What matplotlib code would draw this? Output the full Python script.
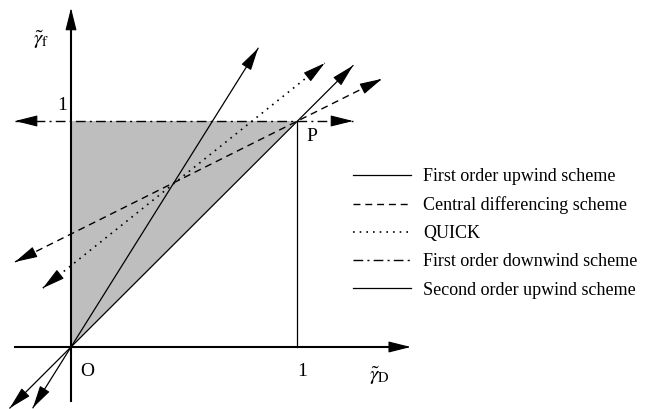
import matplotlib
matplotlib.use("Agg")
import matplotlib.pyplot as plt
import numpy as np

plt.rcParams['font.family'] = ['Liberation Serif', 'DejaVu Serif']
plt.rcParams['mathtext.fontset'] = 'stix'

# scheme lines in the normalised variable diagram: y = a + b*x
schemes = ["First order upwind scheme", "Central differencing scheme", "QUICK",
           "First order downwind scheme", "Second order upwind scheme"]
intercepts = [0.0, 0.5, 0.36, 1.0, 0.0]
slopes = [1.0, 0.5, 0.8, 0.0, 1.6]
x_start = [-0.27, -0.247, -0.124, -0.247, -0.168]
x_end = [1.245, 1.373, 1.12, 1.245, 0.826]
styles = ['-', (0, (5, 3.5)), (0, (1, 3)), (0, (7, 3, 1.5, 3)), '-']
widths = [0.9, 1.0, 1.2, 1.0, 0.9]

# shaded triangle O - (0,1) - P
fill_x = [0, 0, 1]
fill_y = [0, 1, 1]

fig = plt.figure(figsize=(6.5, 4.09), dpi=100)
ax = fig.add_axes([0, 0, 1, 1])
ax.set_xlim(-71 / 226.5, (650 - 71) / 226.5)
ax.set_ylim(-62 / 226.0, 347 / 226.0)
ax.axis('off')

ax.fill(fill_x, fill_y, color='#bebebe', lw=0, zorder=1)


def head(x0, y0, x1, y1):
    # small filled arrowhead pointing to (x1, y1)
    ax.annotate('', xy=(x1, y1), xytext=(x0, y0),
                arrowprops=dict(arrowstyle='-|>,head_length=1.4,head_width=0.35',
                                color='black', lw=0.8, shrinkA=0, shrinkB=0),
                zorder=4)


handles = []
for name, a, b, xs, xe, ls, w in zip(schemes, intercepts, slopes, x_start, x_end, styles, widths):
    xx = np.array([xs, xe])
    yy = a + b * xx
    ln, = ax.plot(xx, yy, color='black', lw=w, linestyle=ls, zorder=3)
    handles.append(ln)
    d = np.array([1.0, b]) / np.hypot(1.0, b) * 0.04
    head(xe - d[0], yy[1] - d[1], xe, yy[1])
    head(xs + d[0], yy[0] + d[1], xs, yy[0])

# axes with arrows
ax.plot([-0.247, 1.46], [0, 0], color='black', lw=1.5, zorder=3)
ax.plot([0, 0], [-0.24, 1.46], color='black', lw=1.5, zorder=3)
head(1.40, 0, 1.50, 0)
head(0, 1.40, 0, 1.50)

# vertical line from P down to the axis
ax.plot([1, 1], [0, 1], color='black', lw=0.9, zorder=3)

ax.text(-0.04, 1.03, '1', fontsize=14, ha='center', va='bottom')
ax.text(1.0 + 0.02, -0.07, '1', fontsize=14, ha='center', va='top')
ax.text(0.07, -0.07, 'O', fontsize=14, ha='center', va='top')
ax.text(1.04, 0.93, 'P', fontsize=14, ha='left', va='center')
ax.text(-0.13, 1.36, r'$\tilde{\gamma}_{\mathrm{f}}$', fontsize=15, ha='center', va='center')
ax.text(1.36, -0.13, r'$\tilde{\gamma}_{\mathrm{D}}$', fontsize=15, ha='center', va='center')

leg = ax.legend(handles, schemes, loc='upper left', bbox_to_anchor=(353 / 650, 1 - 168 / 409),
                frameon=False, fontsize=13, handlelength=3.2, handletextpad=0.7,
                labelspacing=0.62, borderaxespad=0, borderpad=0)

fig.savefig('out.png', dpi=100)
